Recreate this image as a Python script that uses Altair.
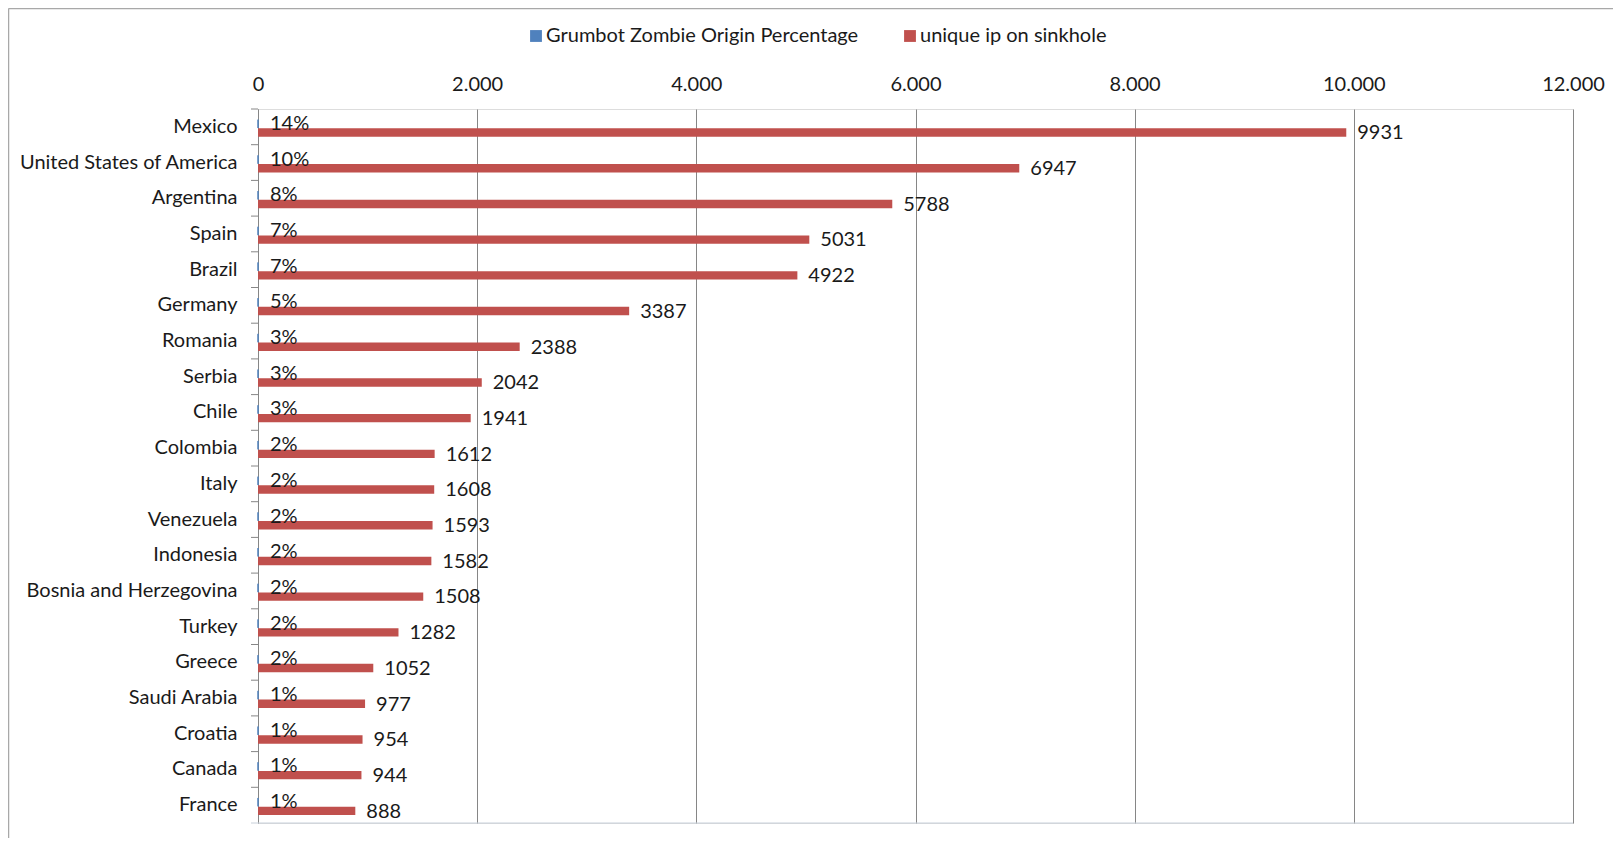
import altair as alt
import pandas as pd

countries = ["Mexico", "United States of America", "Argentina", "Spain", "Brazil",
             "Germany", "Romania", "Serbia", "Chile", "Colombia", "Italy", "Venezuela",
             "Indonesia", "Bosnia and Herzegovina", "Turkey", "Greece", "Saudi Arabia",
             "Croatia", "Canada", "France"]
pct = [14, 10, 8, 7, 7, 5, 3, 3, 3, 2, 2, 2, 2, 2, 2, 2, 1, 1, 1, 1]
ips = [9931, 6947, 5788, 5031, 4922, 3387, 2388, 2042, 1941, 1612, 1608, 1593,
       1582, 1508, 1282, 1052, 977, 954, 944, 888]
series = ["Grumbot Zombie Origin Percentage", "unique ip on sinkhole"]
colors = ["#4F81BD", "#C0504D"]
x_ticks = [0, 2000, 4000, 6000, 8000, 10000, 12000]

FONT = "Lato"
FS = 20
TXT = "#1a1a1a"
W, H = 1315, 714

rows = []
for c, p, v in zip(countries, pct, ips):
    rows.append({"country": c, "series": series[0], "value": p / 100.0, "label": f"{p}%"})
    rows.append({"country": c, "series": series[1], "value": v, "label": str(v)})
df = pd.DataFrame(rows)

base = alt.Chart(df)

y_enc = alt.Y("country:N", sort=countries,
              scale=alt.Scale(paddingInner=0, paddingOuter=0),
              axis=alt.Axis(title=None, ticks=False, tickSize=0, domainColor="#868686",
                            labelFontSize=FS, labelFont=FONT, labelColor=TXT,
                            labelPadding=21, labelLimit=0))
x_enc = alt.X("value:Q", scale=alt.Scale(domain=[0, 12000], nice=False),
              axis=alt.Axis(orient="top", title=None, values=x_ticks, grid=True,
                            gridColor="#868686", gridWidth=1, domain=False, ticks=False,
                            tickSize=0, labelPadding=15, labelFontSize=FS, labelFont=FONT,
                            labelColor=TXT, labelFlush=False, labelLimit=0,
                            labelExpr="datum.value == 0 ? '0' : format(datum.value/1000, 'd') + '.000'"))
color_enc = alt.Color("series:N", scale=alt.Scale(domain=series, range=colors),
                      legend=alt.Legend(title=None, orient="none", direction="horizontal",
                                        legendX=268, legendY=-83, padding=0,
                                        symbolType="square", symbolSize=140,
                                        symbolStrokeWidth=0, labelFontSize=FS,
                                        labelFont=FONT, labelColor=TXT, labelLimit=0,
                                        labelOffset=0, columnPadding=41))

blue = base.transform_filter(alt.datum.series == series[0]).mark_bar(
    height=8.4, yOffset=-3, stroke=colors[0], strokeWidth=1).encode(
    x=x_enc, y=y_enc, color=color_enc)
red = base.transform_filter(alt.datum.series == series[1]).mark_bar(
    height=8.4, yOffset=5.7).encode(x=x_enc, y=y_enc, color=color_enc)

blue_txt = base.transform_filter(alt.datum.series == series[0]).mark_text(
    align="left", baseline="middle", dx=12, dy=-3, fontSize=FS, font=FONT,
    color=TXT).encode(x="value:Q", y=alt.Y("country:N", sort=countries), text="label:N")
red_txt = base.transform_filter(alt.datum.series == series[1]).mark_text(
    align="left", baseline="middle", dx=11, dy=6.5, fontSize=FS, font=FONT,
    color=TXT).encode(x="value:Q", y=alt.Y("country:N", sort=countries), text="label:N")

ticks = base.transform_filter(alt.datum.series == series[1]).mark_rule(
    color="#868686", strokeWidth=1).encode(
    y=alt.Y("country:N", sort=countries, bandPosition=0),
    x=alt.value(-7), x2=alt.value(0))
bottom = alt.Chart(pd.DataFrame({"a": [0]})).mark_rule(color="#c8d0da", strokeWidth=1).encode(
    y=alt.value(H), x=alt.value(-7), x2=alt.value(W))
frame_left = alt.Chart(pd.DataFrame({"a": [0]})).mark_rule(color="#a8a8a8", strokeWidth=1.5).encode(
    x=alt.value(-249.5), y=alt.value(-100.5), y2=alt.value(H + 40))
frame_top = alt.Chart(pd.DataFrame({"a": [0]})).mark_rule(color="#a8a8a8", strokeWidth=1.5).encode(
    y=alt.value(-100.5), x=alt.value(-249.5), x2=alt.value(W + 40))

chart = alt.layer(red, blue, ticks, bottom, blue_txt, red_txt, frame_left, frame_top).properties(
    width=W, height=H,
    autosize=alt.AutoSizeParams(type="none"),
    padding={"left": 250, "top": 101, "right": 40, "bottom": 15},
).configure_view(stroke=None).configure(background="white")

chart.save("out.html", embed_options={"renderer": "svg", "actions": False})
